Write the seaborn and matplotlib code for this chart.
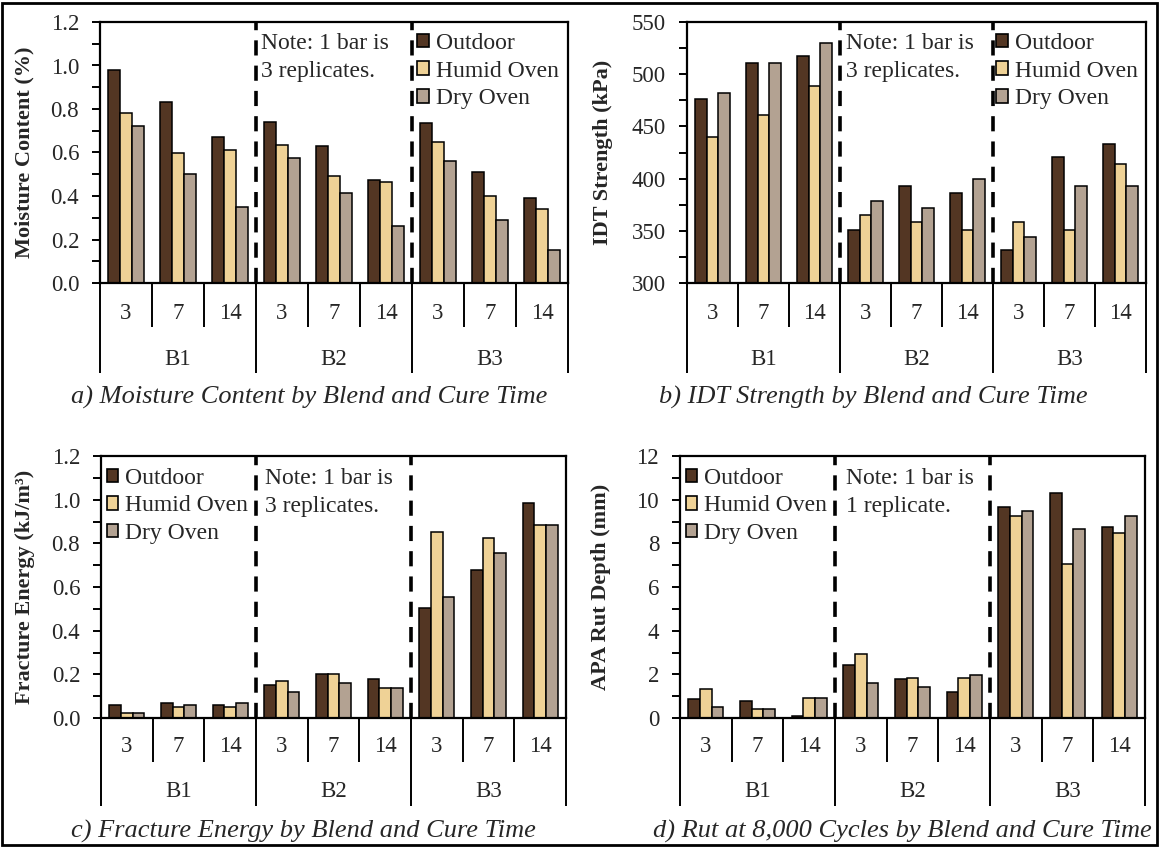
import numpy as np
import pandas as pd
import matplotlib
matplotlib.use("Agg")
import matplotlib.pyplot as plt
import seaborn as sns
from matplotlib.patches import Patch, Rectangle
from matplotlib.ticker import MultipleLocator, FormatStrFormatter

# ---------------- data ----------------
blends = ["B1", "B2", "B3"]
cure_times = ["3", "7", "14"]
conditions = ["Outdoor", "Humid Oven", "Dry Oven"]

moisture_outdoor = [0.98, 0.83, 0.67, 0.74, 0.63, 0.475, 0.735, 0.51, 0.39]
moisture_humid = [0.78, 0.60, 0.61, 0.635, 0.49, 0.465, 0.65, 0.40, 0.34]
moisture_dry = [0.72, 0.50, 0.35, 0.575, 0.415, 0.26, 0.56, 0.29, 0.15]

idt_outdoor = [476, 511, 517, 351, 393, 386, 332, 421, 433]
idt_humid = [440, 461, 489, 365, 358, 351, 358, 351, 414]
idt_dry = [482, 511, 530, 379, 372, 400, 344, 393, 393]

fe_outdoor = [0.060, 0.068, 0.060, 0.152, 0.203, 0.178, 0.505, 0.680, 0.984]
fe_humid = [0.024, 0.050, 0.050, 0.169, 0.203, 0.136, 0.850, 0.824, 0.883]
fe_dry = [0.024, 0.060, 0.068, 0.120, 0.161, 0.136, 0.556, 0.757, 0.883]

rut_outdoor = [0.85, 0.78, 0.10, 2.45, 1.77, 1.20, 9.67, 10.32, 8.73]
rut_humid = [1.34, 0.43, 0.93, 2.94, 1.84, 1.84, 9.24, 7.05, 8.48]
rut_dry = [0.50, 0.43, 0.93, 1.61, 1.43, 1.95, 9.49, 8.65, 9.24]

ylabels = ["Moisture Content (%)", "IDT Strength (kPa)",
           "Fracture Energy (kJ/m³)", "APA Rut Depth (mm)"]
captions = ["a) Moisture Content by Blend and Cure Time",
            "b) IDT Strength by Blend and Cure Time",
            "c) Fracture Energy by Blend and Cure Time",
            "d) Rut at 8,000 Cycles by Blend and Cure Time"]
notes = ["Note: 1 bar is\n3 replicates.", "Note: 1 bar is\n3 replicates.",
         "Note: 1 bar is\n3 replicates.", "Note: 1 bar is\n1 replicate."]

palette = {"Outdoor": "#533623", "Humid Oven": "#efd296", "Dry Oven": "#b3a292"}

# ---------------- style ----------------
sns.set_theme(style="white")
plt.rcParams["font.family"] = ["Liberation Serif", "DejaVu Serif"]
plt.rcParams["axes.edgecolor"] = "black"

fig = plt.figure(figsize=(11.59, 8.48), dpi=100)

groups = [f"{b}|{c}" for b in blends for c in cure_times]


def make_df(o, h, d):
    rows = []
    for vals, cond in zip([o, h, d], conditions):
        for g, v in zip(groups, vals):
            rows.append({"group": g, "cond": cond, "value": v})
    return pd.DataFrame(rows)


W, H = 1159.0, 848.0


def rect(l, r, t, b):
    return [l / W, 1 - b / H, (r - l) / W, (b - t) / H]


panels = [
    dict(df=make_df(moisture_outdoor, moisture_humid, moisture_dry),
         pos=rect(100, 568, 22, 283), ylim=(0, 1.2), major=0.2, minor=0.1,
         fmt="%.1f", leg=(0.677, 0.958), note=(0.345, 0.958), ylx=-0.139,
         cap=(309, 397), sep_short=-0.169, sep_long=-0.345,
         lab_cure=-0.115, lab_blend=-0.295),
    dict(df=make_df(idt_outdoor, idt_humid, idt_dry),
         pos=rect(687, 1146, 22, 283), ylim=(300, 550), major=50, minor=25,
         fmt="%d", leg=(0.673, 0.958), note=(0.346, 0.958), ylx=-0.161,
         cap=(873, 397), sep_short=-0.169, sep_long=-0.345,
         lab_cure=-0.115, lab_blend=-0.295),
    dict(df=make_df(fe_outdoor, fe_humid, fe_dry),
         pos=rect(101, 566, 456, 718), ylim=(0, 1.2), major=0.2, minor=0.1,
         fmt="%.1f", leg=(0.012, 0.955), note=(0.352, 0.955), ylx=-0.142,
         cap=(303, 831), sep_short=-0.168, sep_long=-0.336,
         lab_cure=-0.107, lab_blend=-0.282),
    dict(df=make_df(rut_outdoor, rut_humid, rut_dry),
         pos=rect(680, 1145, 456, 718), ylim=(0, 12), major=2, minor=1,
         fmt="%d", leg=(0.012, 0.955), note=(0.356, 0.955), ylx=-0.148,
         cap=(902, 831), sep_short=-0.168, sep_long=-0.336,
         lab_cure=-0.107, lab_blend=-0.282),
]

FS = 16.5
FS_LEG = 17
FS_YL = 16
FS_CAP = 19

for i, p in enumerate(panels):
    ax = fig.add_axes(p["pos"])
    sns.barplot(data=p["df"], x="group", y="value", hue="cond", order=groups,
                hue_order=conditions, palette=palette, width=0.68, gap=0,
                edgecolor="black", linewidth=1.1, saturation=1, legend=False,
                errorbar=None, ax=ax)
    ax.set_xlim(-0.5, 8.5)
    ax.set_ylim(*p["ylim"])
    ax.set_xlabel("")
    ax.set_xticks([])
    for s in ax.spines.values():
        s.set_visible(True)
        s.set_color("black")
        s.set_linewidth(1.6)
    ax.yaxis.set_major_locator(MultipleLocator(p["major"]))
    ax.yaxis.set_minor_locator(MultipleLocator(p["minor"]))
    ax.yaxis.set_major_formatter(FormatStrFormatter(p["fmt"]))
    ax.tick_params(axis="y", which="both", direction="out", left=True, right=False,
                   length=6, width=1.4, color="black", labelsize=FS, pad=9)
    ax.set_ylabel(ylabels[i], fontsize=FS_YL, fontweight="bold")
    ax.yaxis.set_label_coords(p["ylx"], 0.5)

    # dashed blend separators
    for xb in [2.5, 5.5]:
        ax.axvline(xb, color="black", lw=2.6, linestyle=(0, (4.2, 2.8)), zorder=5)

    # hierarchical category axis
    tr = ax.get_xaxis_transform()
    for k in range(10):
        x = k - 0.5
        y1 = p["sep_long"] if k % 3 == 0 else p["sep_short"]
        ax.plot([x, x], [0, y1], transform=tr, color="black", lw=1.4,
                clip_on=False, solid_capstyle="butt")
    for k, g in enumerate(groups):
        ax.text(k, p["lab_cure"], g.split("|")[1], transform=tr, ha="center",
                va="center", fontsize=FS)
    for b_i, b in enumerate(blends):
        ax.text(b_i * 3 + 1, p["lab_blend"], b, transform=tr, ha="center",
                va="center", fontsize=FS)

    # legend
    handles = [Patch(facecolor=palette[c], edgecolor="black", linewidth=1.2)
               for c in conditions]
    ax.legend(handles, conditions, loc="upper left", bbox_to_anchor=p["leg"],
              frameon=False, fontsize=FS_LEG, handlelength=0.5, handleheight=0.5,
              handletextpad=0.3, labelspacing=0.28, borderpad=0, borderaxespad=0)

    # note
    ax.text(p["note"][0], p["note"][1], notes[i], transform=ax.transAxes,
            ha="left", va="top", fontsize=FS_LEG, linespacing=1.42)

    # caption
    fig.text(p["cap"][0] / W, 1 - p["cap"][1] / H, captions[i], ha="center",
             va="center", fontsize=FS_CAP, style="italic")

fig.add_artist(Rectangle((0.002, 0.003), 0.9965, 0.994, transform=fig.transFigure,
                         fill=False, edgecolor="black", linewidth=2))

fig.savefig("out.png", dpi=100)
